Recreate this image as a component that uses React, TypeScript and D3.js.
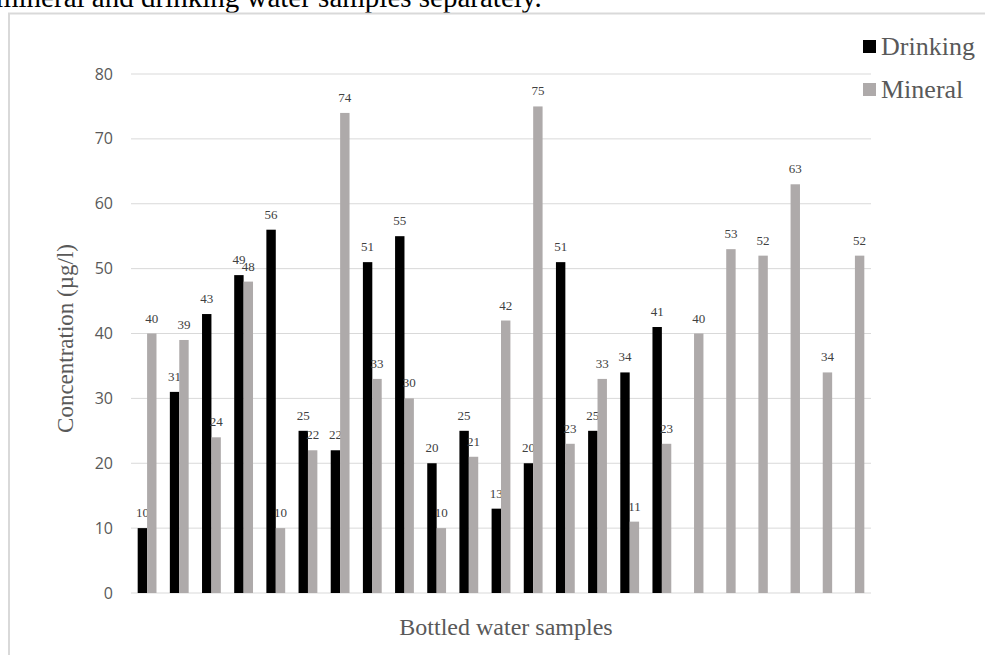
import React, { useEffect, useRef } from "react";
import * as d3 from "d3";

const categories: string[] = Array.from({ length: 23 }, (_, i) => `S${i + 1}`);
const seriesNames: string[] = ["Drinking", "Mineral"];
const drinking: (number | null)[] = [10, 31, 43, 49, 56, 25, 22, 51, 55, 20, 25, 13, 20, 51, 25, 34, 41, null, null, null, null, null, null];
const mineral: (number | null)[] = [40, 39, 24, 48, 10, 22, 74, 33, 30, 10, 21, 42, 75, 23, 33, 11, 23, 40, 53, 52, 63, 34, 52];
const yTicks: number[] = [0, 10, 20, 30, 40, 50, 60, 70, 80];
const colors: string[] = ["#000000", "#aeaaaa"];

export default function App() {
  const ref = useRef<SVGSVGElement>(null);
  useEffect(() => {
    const svg = d3.select(ref.current);
    svg.selectAll("*").remove();
    const W = 985, H = 655;
    const left = 131, right = 871, top = 74, bottom = 593;

    // document text above the chart (clipped)
    svg.append("text").attr("x", -4).attr("y", 7)
      .attr("font-family", "'Liberation Serif', 'Times New Roman', serif")
      .attr("font-size", 29).attr("fill", "#000")
      .text("mineral and drinking water samples separately.");

    // chart border
    svg.append("path").attr("d", `M9,${H + 5} V13.5 H${W + 5}`)
      .attr("fill", "none").attr("stroke", "#d9d9d9").attr("stroke-width", 2);

    const y = d3.scaleLinear().domain([0, 80]).range([bottom, top]);
    const x0 = d3.scaleBand<string>().domain(categories).range([left, right]).paddingInner(0).paddingOuter(0);
    const x1 = d3.scaleBand<string>().domain(seriesNames).range([0, x0.bandwidth()]).paddingInner(0).paddingOuter(0.71);

    // grid
    svg.append("g").selectAll("line").data(yTicks).join("line")
      .attr("x1", left).attr("x2", right)
      .attr("y1", d => y(d)).attr("y2", d => y(d))
      .attr("stroke", "#d9d9d9").attr("stroke-width", 1);

    // tick labels
    svg.append("g").selectAll("text").data(yTicks).join("text")
      .attr("x", 113).attr("y", d => y(d)).attr("dy", "0.35em")
      .attr("text-anchor", "end")
      .attr("font-family", "'Open Sans', Calibri, sans-serif")
      .attr("font-size", 16).attr("fill", "#595959")
      .text(d => d);

    const series = [drinking, mineral];
    series.forEach((vals, si) => {
      const g = svg.append("g");
      const pts = categories.map((c, i) => ({ c, v: vals[i] })).filter(p => p.v !== null) as { c: string; v: number }[];
      g.selectAll("rect").data(pts).join("rect")
        .attr("x", p => (x0(p.c) as number) + (x1(seriesNames[si]) as number))
        .attr("width", x1.bandwidth())
        .attr("y", p => y(p.v))
        .attr("height", p => bottom - y(p.v))
        .attr("fill", colors[si]);
      g.selectAll("text").data(pts).join("text")
        .attr("x", p => (x0(p.c) as number) + (x1(seriesNames[si]) as number) + x1.bandwidth() / 2)
        .attr("y", p => y(p.v) - 11)
        .attr("text-anchor", "middle")
        .attr("font-family", "'Liberation Serif', 'Times New Roman', serif")
        .attr("font-size", 13).attr("fill", "#404040")
        .text(p => p.v);
    });

    // axis titles
    svg.append("text")
      .attr("transform", `translate(73,${(top + bottom) / 2 + 5}) rotate(-90)`)
      .attr("text-anchor", "middle")
      .attr("font-family", "'Liberation Serif', 'Times New Roman', serif")
      .attr("font-size", 23).attr("fill", "#595959")
      .text("Concentration (µg/l)");
    svg.append("text")
      .attr("x", 506).attr("y", 635)
      .attr("text-anchor", "middle")
      .attr("font-family", "'Liberation Serif', 'Times New Roman', serif")
      .attr("font-size", 24).attr("fill", "#595959")
      .text("Bottled water samples");

    // legend
    const lg = svg.append("g").selectAll("g").data(seriesNames).join("g")
      .attr("transform", (_, i) => `translate(863,${40 + i * 43})`);
    lg.append("rect").attr("width", 13).attr("height", 13).attr("fill", (_, i) => colors[i]);
    lg.append("text").attr("x", 18).attr("y", 15)
      .attr("font-family", "'Liberation Serif', 'Times New Roman', serif")
      .attr("font-size", 26).attr("fill", "#595959")
      .text(d => d);
  }, []);
  return (
    <svg ref={ref} width={985} height={655}
      style={{ position: "absolute", left: 0, top: 0, background: "#fff" }} />
  );
}
